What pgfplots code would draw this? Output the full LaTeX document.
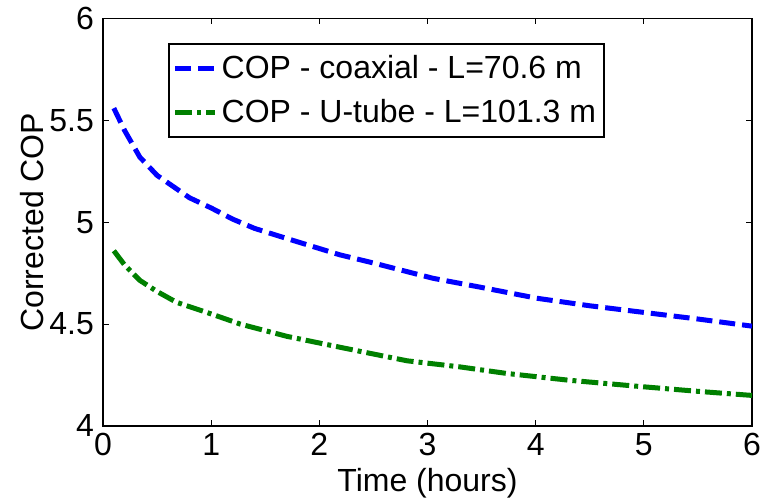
\documentclass[border=0pt]{standalone}
\usepackage{fontspec}
\setmainfont{Liberation Sans}
\usepackage{pgfplots}
\pgfplotsset{compat=1.18}
\definecolor{mblue}{RGB}{0,0,255}
\definecolor{mgreen}{RGB}{0,128,0}
\begin{document}
\begin{tikzpicture}
\begin{axis}[
  name=ax,
  scale only axis,
  width=324.5pt, height=203.75pt,
  xmin=0, xmax=6, ymin=4, ymax=6,
  xtick={0,1,2,3,4,5,6},
  ytick={4,4.5,5,5.5,6},
  tick align=inside,
  major tick length=3pt,
  axis line style={line width=0.8pt},
  tick style={black, line width=0.5pt},
  every tick label/.append style={font=\fontsize{16}{19}\selectfont},
  /pgf/number format/assume math mode=true,
  /pgf/number format/fixed,
  /pgf/number format/precision=1,
  yticklabel style={xshift=-1pt},
  xlabel={Time (hours)},
  ylabel={Corrected COP},
  label style={font=\fontsize{16}{19}\selectfont},
  xlabel style={at={(axis description cs:0.5,-0.1399)}, anchor=center},
  ylabel style={at={(axis description cs:-0.1094,0.5)}, anchor=center},
  legend style={at={(axis description cs:0.1,0.94)}, anchor=north west,
    draw=black, line width=0.8pt, font=\fontsize{16}{19}\selectfont,
    inner xsep=2pt, inner ysep=4pt, row sep=4.5pt},
  legend cell align=left,
  legend image code/.code={\draw[#1] (0pt,0pt) -- (20pt,0pt);},
]
\addplot[mblue, line width=2.5pt, dash pattern=on 8pt off 3.5pt] coordinates {
(0.1,5.56) (0.2,5.45) (0.34,5.32) (0.5,5.23) (0.8,5.12) (1,5.07) (1.2,5.015) (1.4,4.97)
(1.7,4.92) (2.19,4.84) (2.5,4.80) (3.05,4.725) (3.5,4.68) (4.01,4.627)
(4.5,4.59) (4.96,4.56) (5.5,4.525) (6,4.49)};
\addlegendentry{COP - coaxial - L=70.6 m}
\addplot[mgreen, line width=2.5pt, dash pattern=on 8.5pt off 2.5pt on 2pt off 2.5pt] coordinates {
(0.1,4.86) (0.2,4.79) (0.34,4.715) (0.5,4.66) (0.68,4.607) (1,4.55) (1.27,4.50)
(1.7,4.44) (2.25,4.38) (2.81,4.32) (3.3,4.29) (3.73,4.258) (4.3,4.225)
(4.96,4.194) (5.5,4.17) (6,4.15)};
\addlegendentry{COP - U-tube - L=101.3 m}
\end{axis}
\pgfresetboundingbox
\path ([shift={(-51.5pt,-37pt)}]ax.south west) rectangle ([shift={(4.5pt,9.25pt)}]ax.north east);
\end{tikzpicture}
\end{document}
